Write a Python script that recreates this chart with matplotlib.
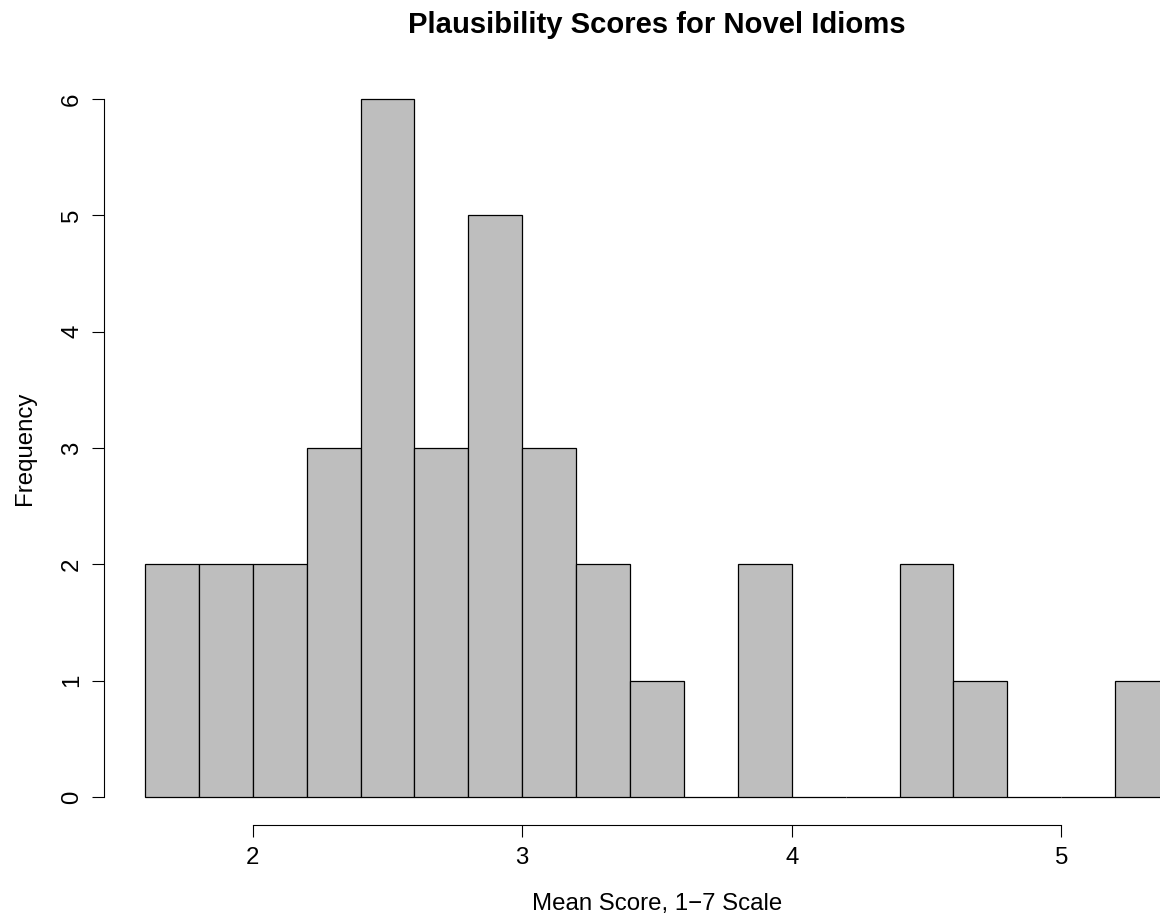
"""Histogram of plausibility scores for novel idioms, in R base-graphics style."""

import matplotlib.pyplot as plt
import numpy as np

plt.rcParams["font.family"] = ["Liberation Sans", "DejaVu Sans"]

# bin edges (width 0.2) and counts
BIN_EDGES = np.round(np.arange(1.6, 5.41, 0.2), 2)
COUNTS = [2, 2, 2, 3, 6, 3, 5, 3, 2, 1, 0, 2, 0, 0, 2, 1, 0, 0, 1]
X_TICKS = [2, 3, 4, 5]
Y_TICKS = [0, 1, 2, 3, 4, 5, 6]

TITLE = "Plausibility Scores for Novel Idioms"
X_LABEL = "Mean Score, 1\u22127 Scale"
Y_LABEL = "Frequency"

W, H = 1160, 915
BASE_PT = 17.3  # R pointsize 12 at a 144 dpi device

fig = plt.figure(figsize=(W / 100, H / 100), dpi=100)
# plot region runs past the right edge of the picture, as in the reference
left, right, top, bottom = 104, 1210, 71, 825
ax = fig.add_axes([left / W, 1 - bottom / H, (right - left) / W,
                   (bottom - top) / H])

widths = np.diff(BIN_EDGES)
ax.bar(BIN_EDGES[:-1], COUNTS, width=widths, align="edge",
       color="#BEBEBE", edgecolor="black", linewidth=0.9)

span = BIN_EDGES[-1] - BIN_EDGES[0]
ax.set_xlim(BIN_EDGES[0] - 0.04 * span, BIN_EDGES[-1] + 0.04 * span)
ax.set_ylim(-0.04 * 6, 6 * 1.04)

for side in ("top", "right"):
    ax.spines[side].set_visible(False)
ax.spines["bottom"].set_bounds(X_TICKS[0], X_TICKS[-1])
ax.spines["left"].set_bounds(Y_TICKS[0], Y_TICKS[-1])
for side in ("bottom", "left"):
    ax.spines[side].set_linewidth(0.8)

ax.set_xticks(X_TICKS)
ax.set_yticks(Y_TICKS)
ax.tick_params(axis="both", direction="out", length=8.6, width=0.8,
               labelsize=BASE_PT)
ax.tick_params(axis="x", pad=7.5)
ax.tick_params(axis="y", pad=6.5)
for lab in ax.get_yticklabels():
    lab.set_rotation(90)
    lab.set_verticalalignment("center")

mid_x = (left + right) / 2 / W
mid_y = 1 - (top + bottom) / 2 / H
fig.text(mid_x, 1 - 33 / H, TITLE, ha="center", va="baseline",
         fontsize=BASE_PT * 1.22, fontweight="bold")
fig.text(mid_x, 1 - 910 / H, X_LABEL, ha="center", va="baseline",
         fontsize=BASE_PT)
fig.text(31 / W, mid_y, Y_LABEL, ha="center", va="baseline",
         fontsize=BASE_PT, rotation=90, rotation_mode="anchor")

fig.savefig("out.png", dpi=100)
